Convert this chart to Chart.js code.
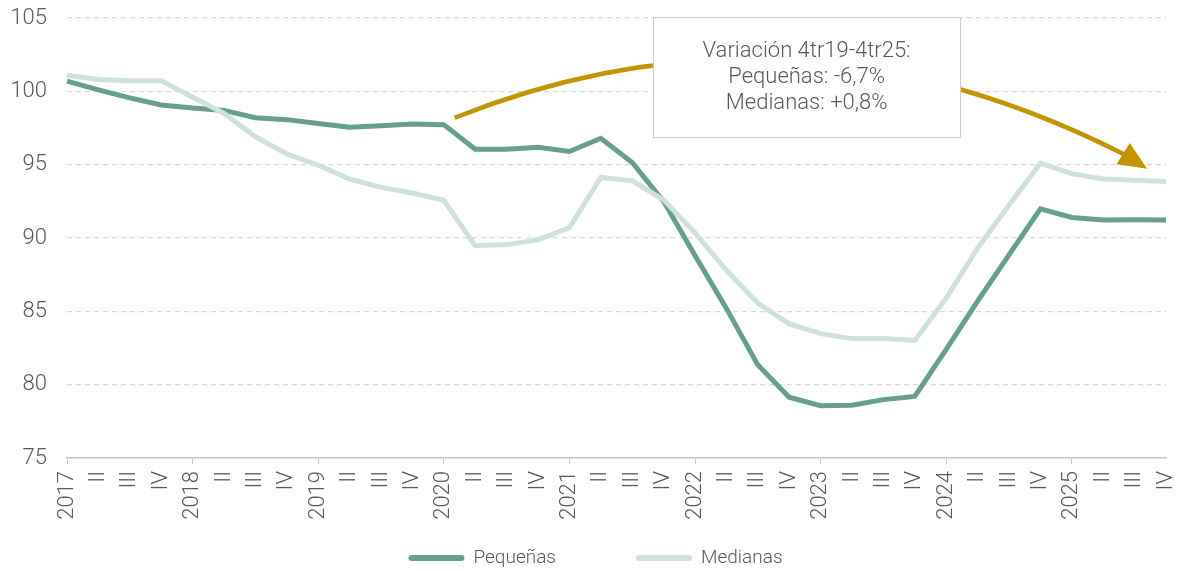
<!DOCTYPE html>
<html lang="es">
<head>
<meta charset="utf-8">
<title>Pequeñas y medianas</title>
<script src="https://cdn.jsdelivr.net/npm/chart.js@4.4.1/dist/chart.umd.min.js"></script>
<style>
    html, body { margin: 0; padding: 0; background: #fff; }
    #wrap { width: 1180px; height: 571px; }
</style>
</head>
<body>
<div id="wrap"><canvas id="chart" width="1180" height="571"></canvas></div>
<script>
// Quarters 2017 I - 2025 IV
const years = ['2017', '2018', '2019', '2020', '2021', '2022', '2023', '2024', '2025'];
const quarterLabels = years.flatMap(y => [y, 'II', 'III', 'IV']);

// Series (index)
const pequenas = [100.7, 100.1, 99.55, 99.07, 98.87, 98.7, 98.2, 98.07,
    97.8, 97.55, 97.66, 97.77, 97.73, 96.05, 96.05, 96.18,
    95.9, 96.8, 95.15, 92.5, 88.8, 85.2, 81.35, 79.14,
    78.56, 78.6, 78.98, 79.2, 82.4, 85.7, 88.85, 91.98,
    91.4, 91.23, 91.25, 91.23];
const medianas = [101.1, 100.8, 100.73, 100.73, 99.6, 98.5, 96.9, 95.73,
    94.96, 94.02, 93.45, 93.07, 92.57, 89.48, 89.55, 89.87,
    90.7, 94.13, 93.9, 92.6, 90.35, 87.8, 85.57, 84.14,
    83.48, 83.14, 83.14, 83.02, 85.9, 89.3, 92.25, 95.1,
    94.39, 94.02, 93.93, 93.86];

const yTicks = [75, 80, 85, 90, 95, 100, 105];
const noteLines = ['Variación 4tr19-4tr25:', 'Pequeñas: -6,7%', 'Medianas: +0,8%'];

const FONT = 'Roboto, "Liberation Sans", sans-serif';
const TEXT = '#595959';
const DARK = '#66a08a';
const LIGHT = '#cfe2d9';
const GOLD = '#c49300';

// Annotation anchors in (category index, value)
const arrowFrom = [12.35, 98.2];
const arrowCtrl = [23.0, 107.3];
const arrowTo = [33.69, 95.68];
const arrowTip = [34.4, 94.73];
const noteBox = { x0: 18.66, x1: 28.45, yTop: 105.09, yBottom: 96.9 };

// Arrow + text box
const notePlugin = {
    id: 'note',
    afterDatasetsDraw(chart) {
        const { ctx, scales: { x, y } } = chart;
        const px = p => [x.getPixelForValue(p[0]), y.getPixelForValue(p[1])];
        const a = px(arrowFrom), c = px(arrowCtrl), b = px(arrowTo), t = px(arrowTip);

        ctx.save();
        ctx.strokeStyle = GOLD;
        ctx.lineWidth = 4.5;
        ctx.beginPath();
        ctx.moveTo(a[0], a[1]);
        ctx.quadraticCurveTo(c[0], c[1], b[0], b[1]);
        ctx.stroke();

        // arrow head
        const ang = Math.atan2(t[1] - b[1], t[0] - b[0]);
        const len = Math.hypot(t[0] - b[0], t[1] - b[1]) + 2;
        const half = 12.5;
        ctx.fillStyle = GOLD;
        ctx.beginPath();
        ctx.moveTo(t[0], t[1]);
        ctx.lineTo(t[0] - len * Math.cos(ang) + half * Math.sin(ang), t[1] - len * Math.sin(ang) - half * Math.cos(ang));
        ctx.lineTo(t[0] - len * Math.cos(ang) - half * Math.sin(ang), t[1] - len * Math.sin(ang) + half * Math.cos(ang));
        ctx.closePath();
        ctx.fill();

        // box
        const bx0 = x.getPixelForValue(noteBox.x0), bx1 = x.getPixelForValue(noteBox.x1);
        const by0 = y.getPixelForValue(noteBox.yTop), by1 = y.getPixelForValue(noteBox.yBottom);
        ctx.fillStyle = '#fff';
        ctx.fillRect(bx0, by0, bx1 - bx0, by1 - by0);
        ctx.strokeStyle = '#cccccc';
        ctx.lineWidth = 1;
        ctx.strokeRect(Math.round(bx0) + 0.5, Math.round(by0) + 0.5, Math.round(bx1 - bx0), Math.round(by1 - by0));

        ctx.fillStyle = TEXT;
        ctx.font = '300 22px ' + FONT;
        ctx.textAlign = 'center';
        ctx.textBaseline = 'middle';
        const cx = (bx0 + bx1) / 2, cy = (by0 + by1) / 2 + 1;
        noteLines.forEach((line, i) => ctx.fillText(line, cx, cy + (i - 1) * 25.8));
        ctx.restore();
    }
};

// Legend drawn by hand so the spacing matches
const legendPlugin = {
    id: 'customLegend',
    afterDraw(chart) {
        const ctx = chart.ctx;
        const lineW = 56, gap = 9, itemGap = 80, yMid = 558;
        ctx.save();
        ctx.font = '300 19px ' + FONT;
        const items = chart.data.datasets.map(ds => ({ label: ds.label, color: ds.borderColor, w: ctx.measureText(ds.label).width }));
        const total = items.reduce((s, it) => s + lineW + gap + it.w, 0) + itemGap * (items.length - 1);
        let cur = 595.5 - total / 2;
        items.forEach(it => {
            ctx.strokeStyle = it.color;
            ctx.lineWidth = 6;
            ctx.lineCap = 'round';
            ctx.beginPath();
            ctx.moveTo(cur + 3, yMid);
            ctx.lineTo(cur + lineW - 3, yMid);
            ctx.stroke();
            cur += lineW + gap;
            ctx.fillStyle = TEXT;
            ctx.textAlign = 'left';
            ctx.textBaseline = 'middle';
            ctx.fillText(it.label, cur, yMid);
            cur += it.w + itemGap;
        });
        ctx.restore();
    }
};

const ctx = document.getElementById('chart');
new Chart(ctx, {
    type: 'line',
    data: {
        labels: quarterLabels,
        datasets: [
            {
                label: 'Pequeñas',
                data: pequenas,
                borderColor: DARK,
                backgroundColor: DARK,
                borderWidth: 5,
                pointRadius: 0,
                tension: 0,
                order: 2
            },
            {
                label: 'Medianas',
                data: medianas,
                borderColor: LIGHT,
                backgroundColor: LIGHT,
                borderWidth: 5,
                pointRadius: 0,
                tension: 0,
                order: 1
            }
        ]
    },
    options: {
        responsive: false,
        animation: false,
        layout: {
            padding: { top: 18, right: 14, bottom: 51, left: 0 }
        },
        plugins: {
            legend: { display: false },
            tooltip: { enabled: false },
            title: { display: false }
        },
        scales: {
            x: {
                type: 'category',
                offset: false,
                afterFit: scale => {
                    scale.height = 62;
                    scale.paddingLeft = 0;
                    scale.paddingRight = 0;
                },
                border: { display: true, color: '#c8c8c8', width: 1.5 },
                grid: {
                    drawOnChartArea: false,
                    drawTicks: true,
                    tickLength: 6,
                    color: c => (c.index % 4 === 0 ? '#c8c8c8' : 'rgba(0,0,0,0)')
                },
                ticks: {
                    autoSkip: false,
                    maxRotation: 90,
                    minRotation: 90,
                    padding: 7,
                    color: TEXT,
                    font: { family: FONT, size: 22, weight: '300' }
                }
            },
            y: {
                min: 75,
                max: 105,
                afterFit: scale => {
                    scale.width = 67;
                    scale.paddingTop = 0;
                    scale.paddingBottom = 0;
                },
                afterBuildTicks: scale => { scale.ticks = yTicks.map(v => ({ value: v })); },
                border: { display: false, dash: [5, 4] },
                grid: {
                    drawTicks: false,
                    color: '#d9d9d9',
                    lineWidth: 1.2
                },
                ticks: {
                    padding: 20,
                    color: TEXT,
                    font: { family: FONT, size: 22, weight: '300' }
                }
            }
        }
    },
    plugins: [notePlugin, legendPlugin]
});
</script>
</body>
</html>
